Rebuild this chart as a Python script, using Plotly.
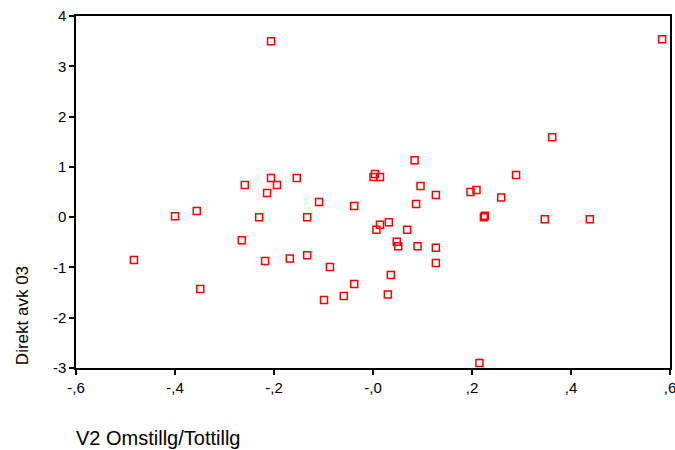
import plotly.graph_objects as go

# V2 Omstillg/Tottillg (x) and Direkt avk 03 (y) per observation
omstillg = [
    -0.483, -0.400, -0.356, -0.349, -0.265, -0.259, -0.230, -0.218, -0.214, -0.206,
    -0.206, -0.194, -0.168, -0.154, -0.133, -0.133, -0.109, -0.087, -0.099, -0.059,
    -0.038, -0.038, 0.004, 0.001, 0.014, 0.084, 0.289, 0.096, 0.127, 0.197,
    0.209, 0.259, 0.362, 0.584, 0.087, 0.224, 0.226, 0.347, 0.438, 0.032,
    0.014, 0.007, 0.069, 0.048, 0.051, 0.090, 0.127, 0.127, 0.036, 0.030,
    0.215,
]
direkt_avk = [
    -0.85, 0.02, 0.12, -1.43, -0.46, 0.64, 0.00, -0.87, 0.48, 3.50,
    0.78, 0.64, -0.82, 0.78, 0.00, -0.76, 0.30, -0.99, -1.65, -1.57,
    -1.33, 0.22, 0.86, 0.80, 0.80, 1.13, 0.84, 0.62, 0.44, 0.50,
    0.54, 0.39, 1.59, 3.54, 0.26, 0.00, 0.03, -0.04, -0.04, -0.10,
    -0.15, -0.25, -0.25, -0.49, -0.58, -0.58, -0.61, -0.91, -1.15, -1.54,
    -2.90,
]

x_ticks = [-0.6, -0.4, -0.2, 0.0, 0.2, 0.4, 0.6]
x_tick_labels = ["-,6", "-,4", "-,2", "-,0", ",2", ",4", ",6"]
y_ticks = [4, 3, 2, 1, 0, -1, -2, -3]
y_tick_labels = ["4", "3", "2", "1", "0", "-1", "-2", "-3"]

font_family = "Liberation Sans, Arial, sans-serif"

fig = go.Figure(
    go.Scatter(
        x=omstillg,
        y=direkt_avk,
        mode="markers",
        marker=dict(
            symbol="square-open",
            size=7,
            color="#ff0000",
            line=dict(width=1.5, color="#ff0000"),
        ),
        hoverinfo="x+y",
    )
)

axis_common = dict(
    showgrid=False,
    zeroline=False,
    showline=True,
    linecolor="black",
    linewidth=1.5,
    mirror=True,
    ticks="outside",
    ticklen=5,
    tickwidth=1.5,
    tickcolor="black",
    automargin=False,
    ticklabeloverflow="allow",
    tickfont=dict(family=font_family, size=15, color="black"),
)

fig.update_xaxes(
    range=[-0.6, 0.6],
    tickvals=x_ticks,
    ticktext=x_tick_labels,
    **axis_common,
)
fig.update_yaxes(
    range=[-3, 4],
    tickvals=y_ticks,
    ticktext=y_tick_labels,
    **axis_common,
)

fig.add_annotation(
    text="V2 Omstillg/Tottillg",
    xref="paper", yref="paper",
    x=-0.003, y=-0.199,
    xanchor="left", yanchor="middle",
    showarrow=False,
    font=dict(family=font_family, size=20, color="black"),
)
fig.add_annotation(
    text="Direkt avk 03",
    xref="paper", yref="paper",
    x=-0.091, y=0.15,
    xanchor="center", yanchor="middle",
    textangle=-90,
    showarrow=False,
    font=dict(family=font_family, size=17, color="black"),
)

fig.update_layout(
    width=675,
    height=450,
    margin=dict(l=76, r=5, t=16, b=82),
    paper_bgcolor="white",
    plot_bgcolor="white",
    showlegend=False,
)

fig.write_html("out.html")
